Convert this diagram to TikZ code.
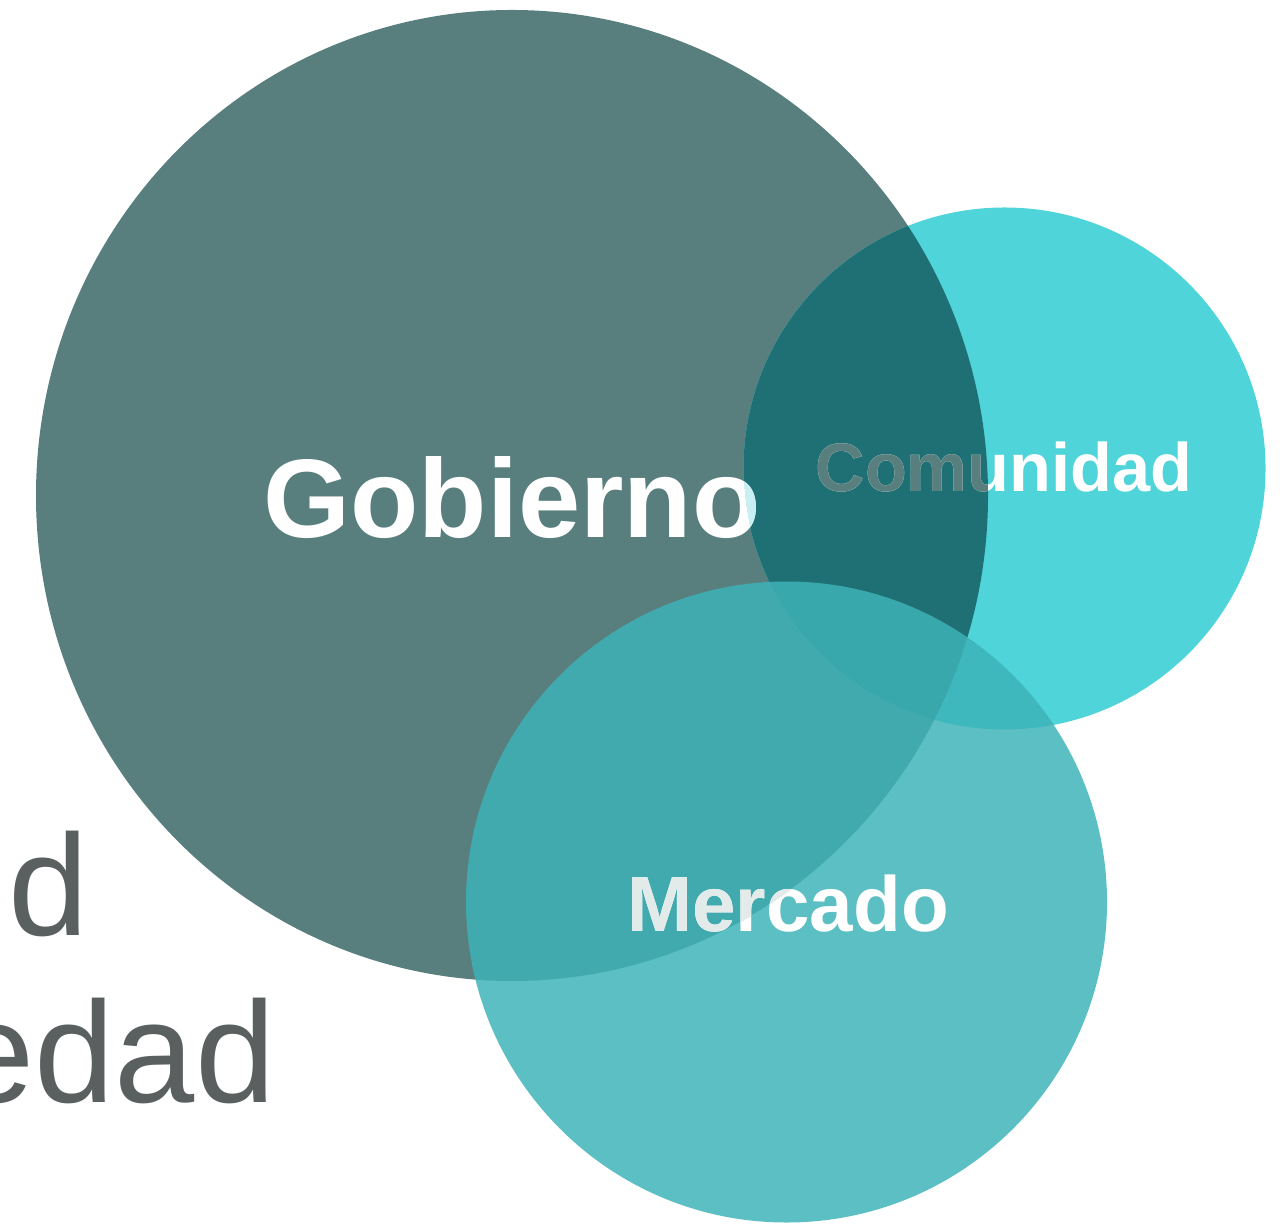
\documentclass[tikz,border=0pt]{standalone}
\usepackage{fontspec}
\setmainfont{Liberation Sans}
\definecolor{gobcol}{RGB}{88,127,126}
\definecolor{comcol}{RGB}{79,212,217}
\definecolor{gobcom}{RGB}{31,112,116}
\definecolor{mercol}{RGB}{61,179,184}
\definecolor{greytxt}{RGB}{90,96,96}
\definecolor{palecyan}{RGB}{200,240,242}
\definecolor{palegrey}{RGB}{226,235,234}
\tikzset{
	lbl/.style={font=\bfseries, text=white, inner sep=0pt, anchor=base},
	sidetxt/.style={font=\fontsize{41pt}{48pt}\selectfont, text=greytxt, inner sep=0pt, anchor=base east},
}
\begin{document}
\begin{tikzpicture}[x=1cm,y=1cm]
	\def\gx{4.76}
	\def\gy{4.855}
	\def\cr{2.61}
	\def\mr{3.205}
	\useasboundingbox (0,0) rectangle (12.8,12.24);
	\coordinate (gc) at (5.12,7.285);
	\coordinate (cc) at (10.045,7.555);
	\coordinate (mc) at (7.865,3.22);
	% text cut by the left edge
	\node[sidetxt] (sidea) at (0.894,2.89) {d};
	\node[sidetxt] (sideb) at (2.76,1.22) {edad};
	% circles
	\fill[gobcol] (gc) ellipse [x radius=\gx, y radius=\gy];
	\fill[comcol] (cc) circle (\cr);
	\begin{scope}
		\clip (gc) ellipse [x radius=\gx, y radius=\gy];
		\fill[gobcom] (cc) circle (\cr);
	\end{scope}
	\node[lbl, font=\fontsize{31.8pt}{38pt}\selectfont\bfseries] (gobtxt) at (5.12,6.86) {Gobierno};
	\begin{scope}
		\clip (cc) circle (\cr);
		\node[lbl, text=palecyan, font=\fontsize{31.8pt}{38pt}\selectfont\bfseries] (gobtxtb) at (5.12,6.86) {Gobierno};
	\end{scope}
	\node[lbl, font=\fontsize{19.5pt}{24pt}\selectfont\bfseries] (comtxt) at (10.04,7.32) {Comunidad};
	\begin{scope}
		\clip (gc) ellipse [x radius=\gx, y radius=\gy];
		\node[lbl, text=gobcol, font=\fontsize{19.5pt}{24pt}\selectfont\bfseries] (comtxtb) at (10.04,7.32) {Comunidad};
	\end{scope}
	\fill[mercol, fill opacity=0.84] (mc) circle (\mr);
	\node[lbl, font=\fontsize{22.25pt}{27pt}\selectfont\bfseries] (mertxt) at (7.88,2.93) {Mercado};
	\begin{scope}
		\clip (gc) ellipse [x radius=\gx, y radius=\gy];
		\node[lbl, text=palegrey, font=\fontsize{22.25pt}{27pt}\selectfont\bfseries] (mertxtb) at (7.88,2.93) {Mercado};
	\end{scope}
\end{tikzpicture}
\end{document}
